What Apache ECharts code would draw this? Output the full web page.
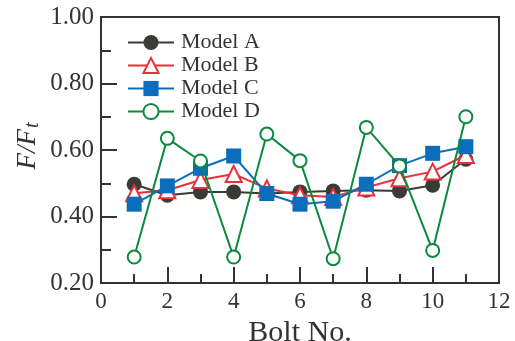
<!DOCTYPE html>
<html><head><meta charset="utf-8">
<script src="https://cdn.jsdelivr.net/npm/echarts@6/dist/echarts.min.js"></script>
<style>html,body{margin:0;padding:0;background:#fff}#c{width:515px;height:341px}</style>
</head><body><div id="c"></div>
<script>
var bolts = [1,2,3,4,5,6,7,8,9,10,11];
var modelA = [0.497,0.464,0.474,0.474,0.469,0.474,0.477,0.479,0.477,0.494,0.572];
var modelB = [0.470,0.479,0.510,0.528,0.484,0.464,0.459,0.487,0.515,0.535,0.585];
var modelC = [0.437,0.492,0.545,0.582,0.469,0.437,0.446,0.497,0.553,0.590,0.610];
var modelD = [0.278,0.635,0.567,0.278,0.648,0.568,0.273,0.668,0.552,0.298,0.700];
var names = ['Model A','Model B','Model C','Model D'];

var serif = '"Liberation Serif","Times New Roman",serif';
var axisColor = '#333333';
function pairs(v){ return bolts.map(function(b,i){ return [b, v[i]]; }); }

var chart = echarts.init(document.getElementById('c'));
var common = { type:'line', lineStyle:{width:2}, emphasis:{disabled:true} };
chart.setOption({
  animation:false,
  grid:{left:101,right:16,top:17,bottom:58,outerBoundsMode:'none',containLabel:false,show:true,borderColor:axisColor,borderWidth:2,backgroundColor:'transparent'},
  legend:{
    orient:'vertical', left:122, top:26.5, itemWidth:46, itemHeight:19, itemGap:1,
    textStyle:{fontFamily:serif,fontSize:22,lineHeight:19,color:axisColor,padding:[0,0,0,2]},
    data:names
  },
  xAxis:{
    type:'value', min:0, max:12, interval:2,
    name:'Bolt No.', nameLocation:'middle', nameGap:18,
    nameTextStyle:{fontFamily:serif,fontSize:30,color:axisColor,verticalAlign:'top'},
    axisLine:{lineStyle:{color:axisColor,width:2}},
    axisTick:{inside:true,length:16,lineStyle:{color:axisColor,width:2}},
    minorTick:{show:true,splitNumber:2,length:9,lineStyle:{color:axisColor,width:2}},
    splitLine:{show:false},
    axisLabel:{fontFamily:serif,fontSize:23,color:axisColor,margin:7}
  },
  yAxis:{
    type:'value', min:0.2, max:1.0, interval:0.2,
    axisLine:{lineStyle:{color:axisColor,width:2}},
    axisTick:{inside:true,length:16,lineStyle:{color:axisColor,width:2}},
    minorTick:{show:true,splitNumber:2,length:10,lineStyle:{color:axisColor,width:2}},
    splitLine:{show:false},
    axisLabel:{fontFamily:serif,fontSize:25,color:axisColor,margin:7,formatter:function(v){return v.toFixed(2);}}
  },
  graphic:[{
    type:'text', x:28, y:146, rotation:Math.PI/2,
    style:{
      text:'{i|F/F}{s|t}', align:'center', verticalAlign:'middle',
      rich:{
        i:{fontFamily:serif,fontStyle:'italic',fontSize:27,fill:axisColor},
        s:{fontFamily:serif,fontStyle:'italic',fontSize:20,fill:axisColor,padding:[10,0,0,1]}
      }
    }
  }],
  series:[
    Object.assign({},common,{name:names[0],data:pairs(modelA),z:2,
      symbol:'circle',symbolSize:15,
      itemStyle:{color:'#3a3a36',borderColor:'#3a3a36',borderWidth:0},
      lineStyle:{width:2,color:'#3a3a36'}}),
    Object.assign({},common,{name:names[1],data:pairs(modelB),z:3,
      symbol:'triangle',symbolSize:16,
      itemStyle:{color:'#ffffff',borderColor:'#e8303a',borderWidth:2},
      lineStyle:{width:2,color:'#e8303a'}}),
    Object.assign({},common,{name:names[2],data:pairs(modelC),z:4,
      symbol:'rect',symbolSize:15,
      itemStyle:{color:'#0a6ebd',borderColor:'#0a6ebd',borderWidth:0},
      lineStyle:{width:2,color:'#0a6ebd'}}),
    Object.assign({},common,{name:names[3],data:pairs(modelD),z:5,
      symbol:'circle',symbolSize:13,
      itemStyle:{color:'#ffffff',borderColor:'#0a8a3c',borderWidth:2},
      lineStyle:{width:2,color:'#0a8a3c'}})
  ]
});
</script>
</body></html>
